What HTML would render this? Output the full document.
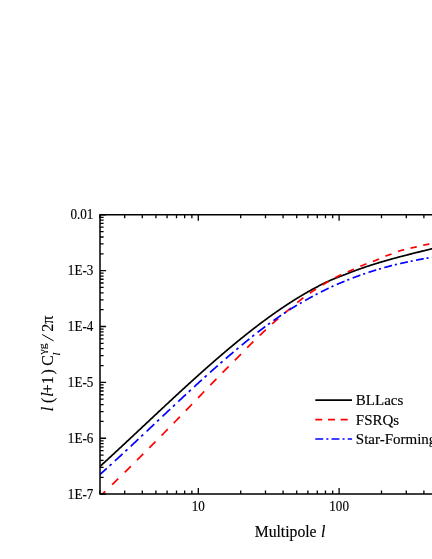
<!DOCTYPE html>
<html><head><meta charset="utf-8"><title>chart</title>
<style>
html,body{margin:0;padding:0;background:#fff;}
body{width:432px;height:559px;overflow:hidden;}
svg{display:block;will-change:transform;}
text{font-family:"Liberation Serif",serif;fill:#000;stroke:#000;stroke-width:0.15px;}
</style></head><body>
<svg width="432" height="559" viewBox="0 0 432 559">
<rect width="432" height="559" fill="#fff"/>
<defs><clipPath id="c"><rect x="100" y="214.75" width="340" height="279.95000000000005"/></clipPath></defs>
<g clip-path="url(#c)" fill="none" stroke-width="1.7">
<path d="M96.00,470.06 L96.50,469.60 L97.00,469.15 L97.50,468.70 L98.00,468.24 L98.50,467.79 L99.00,467.33 L99.50,466.88 L100.00,466.42 L100.50,465.96 L101.00,465.51 L101.50,465.05 L102.00,464.59 L102.50,464.14 L103.00,463.68 L103.50,463.22 L104.00,462.77 L104.50,462.31 L105.00,461.85 L105.50,461.39 L106.00,460.93 L106.50,460.47 L107.00,460.01 L107.50,459.55 L108.00,459.09 L108.50,458.63 L109.00,458.17 L109.50,457.71 L110.00,457.25 L110.50,456.79 L111.00,456.33 L111.50,455.86 L112.00,455.40 L112.50,454.94 L113.00,454.48 L113.50,454.02 L114.00,453.55 L114.50,453.09 L115.00,452.63 L115.50,452.16 L116.00,451.70 L116.50,451.24 L117.00,450.77 L117.50,450.31 L118.00,449.84 L118.50,449.38 L119.00,448.91 L119.50,448.45 L120.00,447.98 L120.50,447.52 L121.00,447.05 L121.50,446.59 L122.00,446.12 L122.50,445.66 L123.00,445.19 L123.50,444.72 L124.00,444.26 L124.50,443.79 L125.00,443.32 L125.50,442.86 L126.00,442.39 L126.50,441.92 L127.00,441.46 L127.50,440.99 L128.00,440.52 L128.50,440.05 L129.00,439.59 L129.50,439.12 L130.00,438.65 L130.50,438.18 L131.00,437.72 L131.50,437.25 L132.00,436.78 L132.50,436.31 L133.00,435.84 L133.50,435.37 L134.00,434.91 L134.50,434.44 L135.00,433.97 L135.50,433.50 L136.00,433.03 L136.50,432.56 L137.00,432.09 L137.50,431.62 L138.00,431.16 L138.50,430.69 L139.00,430.22 L139.50,429.75 L140.00,429.28 L140.50,428.81 L141.00,428.34 L141.50,427.87 L142.00,427.40 L142.50,426.93 L143.00,426.46 L143.50,425.99 L144.00,425.53 L144.50,425.06 L145.00,424.59 L145.50,424.12 L146.00,423.65 L146.50,423.18 L147.00,422.71 L147.50,422.24 L148.00,421.77 L148.50,421.30 L149.00,420.83 L149.50,420.36 L150.00,419.90 L150.50,419.43 L151.00,418.96 L151.50,418.49 L152.00,418.02 L152.50,417.55 L153.00,417.08 L153.50,416.61 L154.00,416.14 L154.50,415.68 L155.00,415.21 L155.50,414.74 L156.00,414.27 L156.50,413.80 L157.00,413.33 L157.50,412.87 L158.00,412.40 L158.50,411.93 L159.00,411.46 L159.50,411.00 L160.00,410.53 L160.50,410.06 L161.00,409.59 L161.50,409.13 L162.00,408.66 L162.50,408.19 L163.00,407.72 L163.50,407.26 L164.00,406.79 L164.50,406.32 L165.00,405.86 L165.50,405.39 L166.00,404.93 L166.50,404.46 L167.00,403.99 L167.50,403.53 L168.00,403.06 L168.50,402.60 L169.00,402.13 L169.50,401.67 L170.00,401.20 L170.50,400.74 L171.00,400.27 L171.50,399.81 L172.00,399.35 L172.50,398.88 L173.00,398.42 L173.50,397.96 L174.00,397.49 L174.50,397.03 L175.00,396.57 L175.50,396.10 L176.00,395.64 L176.50,395.18 L177.00,394.72 L177.50,394.26 L178.00,393.79 L178.50,393.33 L179.00,392.87 L179.50,392.41 L180.00,391.95 L180.50,391.49 L181.00,391.03 L181.50,390.57 L182.00,390.11 L182.50,389.65 L183.00,389.19 L183.50,388.73 L184.00,388.28 L184.50,387.82 L185.00,387.36 L185.50,386.90 L186.00,386.44 L186.50,385.99 L187.00,385.53 L187.50,385.07 L188.00,384.62 L188.50,384.16 L189.00,383.71 L189.50,383.25 L190.00,382.80 L190.50,382.34 L191.00,381.89 L191.50,381.43 L192.00,380.98 L192.50,380.53 L193.00,380.07 L193.50,379.62 L194.00,379.17 L194.50,378.72 L195.00,378.26 L195.50,377.81 L196.00,377.36 L196.50,376.91 L197.00,376.46 L197.50,376.01 L198.00,375.56 L198.50,375.11 L199.00,374.66 L199.50,374.22 L200.00,373.77 L200.50,373.32 L201.00,372.87 L201.50,372.43 L202.00,371.98 L202.50,371.53 L203.00,371.09 L203.50,370.64 L204.00,370.20 L204.50,369.75 L205.00,369.31 L205.50,368.87 L206.00,368.42 L206.50,367.98 L207.00,367.54 L207.50,367.10 L208.00,366.66 L208.50,366.21 L209.00,365.77 L209.50,365.33 L210.00,364.89 L210.50,364.46 L211.00,364.02 L211.50,363.58 L212.00,363.14 L212.50,362.70 L213.00,362.27 L213.50,361.83 L214.00,361.39 L214.50,360.96 L215.00,360.52 L215.50,360.09 L216.00,359.66 L216.50,359.22 L217.00,358.79 L217.50,358.36 L218.00,357.92 L218.50,357.49 L219.00,357.06 L219.50,356.63 L220.00,356.20 L220.50,355.77 L221.00,355.34 L221.50,354.92 L222.00,354.49 L222.50,354.06 L223.00,353.63 L223.50,353.21 L224.00,352.78 L224.50,352.36 L225.00,351.93 L225.50,351.51 L226.00,351.09 L226.50,350.66 L227.00,350.24 L227.50,349.82 L228.00,349.40 L228.50,348.98 L229.00,348.56 L229.50,348.14 L230.00,347.72 L230.50,347.30 L231.00,346.88 L231.50,346.47 L232.00,346.05 L232.50,345.63 L233.00,345.22 L233.50,344.80 L234.00,344.39 L234.50,343.98 L235.00,343.56 L235.50,343.15 L236.00,342.74 L236.50,342.33 L237.00,341.92 L237.50,341.51 L238.00,341.10 L238.50,340.69 L239.00,340.29 L239.50,339.88 L240.00,339.47 L240.50,339.07 L241.00,338.66 L241.50,338.26 L242.00,337.85 L242.50,337.45 L243.00,337.05 L243.50,336.65 L244.00,336.25 L244.50,335.85 L245.00,335.45 L245.50,335.05 L246.00,334.65 L246.50,334.25 L247.00,333.86 L247.50,333.46 L248.00,333.06 L248.50,332.67 L249.00,332.28 L249.50,331.88 L250.00,331.49 L250.50,331.10 L251.00,330.71 L251.50,330.32 L252.00,329.93 L252.50,329.54 L253.00,329.15 L253.50,328.77 L254.00,328.38 L254.50,327.99 L255.00,327.61 L255.50,327.22 L256.00,326.84 L256.50,326.46 L257.00,326.08 L257.50,325.69 L258.00,325.31 L258.50,324.94 L259.00,324.56 L259.50,324.18 L260.00,323.80 L260.50,323.43 L261.00,323.05 L261.50,322.67 L262.00,322.30 L262.50,321.93 L263.00,321.56 L263.50,321.18 L264.00,320.81 L264.50,320.44 L265.00,320.07 L265.50,319.71 L266.00,319.34 L266.50,318.97 L267.00,318.61 L267.50,318.24 L268.00,317.88 L268.50,317.52 L269.00,317.15 L269.50,316.79 L270.00,316.43 L270.50,316.07 L271.00,315.71 L271.50,315.36 L272.00,315.00 L272.50,314.64 L273.00,314.29 L273.50,313.93 L274.00,313.58 L274.50,313.23 L275.00,312.88 L275.50,312.52 L276.00,312.17 L276.50,311.83 L277.00,311.48 L277.50,311.13 L278.00,310.78 L278.50,310.44 L279.00,310.09 L279.50,309.75 L280.00,309.41 L280.50,309.07 L281.00,308.73 L281.50,308.39 L282.00,308.05 L282.50,307.71 L283.00,307.37 L283.50,307.04 L284.00,306.70 L284.50,306.37 L285.00,306.04 L285.50,305.70 L286.00,305.37 L286.50,305.04 L287.00,304.71 L287.50,304.39 L288.00,304.06 L288.50,303.73 L289.00,303.41 L289.50,303.08 L290.00,302.76 L290.50,302.44 L291.00,302.12 L291.50,301.80 L292.00,301.48 L292.50,301.16 L293.00,300.84 L293.50,300.53 L294.00,300.21 L294.50,299.90 L295.00,299.59 L295.50,299.28 L296.00,298.96 L296.50,298.65 L297.00,298.35 L297.50,298.04 L298.00,297.73 L298.50,297.43 L299.00,297.12 L299.50,296.82 L300.00,296.52 L300.50,296.22 L301.00,295.92 L301.50,295.62 L302.00,295.32 L302.50,295.02 L303.00,294.73 L303.50,294.43 L304.00,294.14 L304.50,293.84 L305.00,293.55 L305.50,293.26 L306.00,292.97 L306.50,292.69 L307.00,292.40 L307.50,292.11 L308.00,291.83 L308.50,291.55 L309.00,291.26 L309.50,290.98 L310.00,290.70 L310.50,290.42 L311.00,290.14 L311.50,289.87 L312.00,289.59 L312.50,289.32 L313.00,289.05 L313.50,288.77 L314.00,288.50 L314.50,288.23 L315.00,287.96 L315.50,287.70 L316.00,287.43 L316.50,287.17 L317.00,286.90 L317.50,286.64 L318.00,286.38 L318.50,286.12 L319.00,285.86 L319.50,285.60 L320.00,285.34 L320.50,285.09 L321.00,284.84 L321.50,284.58 L322.00,284.33 L322.50,284.08 L323.00,283.83 L323.50,283.58 L324.00,283.34 L324.50,283.09 L325.00,282.84 L325.50,282.60 L326.00,282.36 L326.50,282.12 L327.00,281.88 L327.50,281.64 L328.00,281.40 L328.50,281.16 L329.00,280.93 L329.50,280.69 L330.00,280.46 L330.50,280.25 L331.00,280.04 L331.50,279.83 L332.00,279.62 L332.50,279.41 L333.00,279.20 L333.50,279.00 L334.00,278.79 L334.50,278.59 L335.00,278.39 L335.50,278.19 L336.00,277.99 L336.50,277.79 L337.00,277.59 L337.50,277.39 L338.00,277.19 L338.50,277.00 L339.00,276.80 L339.50,276.61 L340.00,276.42 L340.50,276.23 L341.00,276.04 L341.50,275.85 L342.00,275.66 L342.50,275.47 L343.00,275.29 L343.50,275.10 L344.00,274.92 L344.50,274.73 L345.00,274.55 L345.50,274.35 L346.00,274.15 L346.50,273.95 L347.00,273.75 L347.50,273.55 L348.00,273.35 L348.50,273.16 L349.00,272.96 L349.50,272.77 L350.00,272.57 L350.50,272.38 L351.00,272.19 L351.50,272.00 L352.00,271.81 L352.50,271.62 L353.00,271.43 L353.50,271.24 L354.00,271.06 L354.50,270.87 L355.00,270.69 L355.50,270.50 L356.00,270.32 L356.50,270.14 L357.00,269.96 L357.50,269.77 L358.00,269.59 L358.50,269.42 L359.00,269.24 L359.50,269.06 L360.00,268.88 L360.50,268.71 L361.00,268.53 L361.50,268.36 L362.00,268.18 L362.50,268.01 L363.00,267.84 L363.50,267.67 L364.00,267.50 L364.50,267.33 L365.00,267.16 L365.50,266.99 L366.00,266.82 L366.50,266.65 L367.00,266.49 L367.50,266.32 L368.00,266.15 L368.50,265.99 L369.00,265.83 L369.50,265.66 L370.00,265.50 L370.50,265.34 L371.00,265.18 L371.50,265.02 L372.00,264.86 L372.50,264.70 L373.00,264.54 L373.50,264.38 L374.00,264.22 L374.50,264.07 L375.00,263.91 L375.50,263.76 L376.00,263.60 L376.50,263.45 L377.00,263.29 L377.50,263.14 L378.00,262.99 L378.50,262.84 L379.00,262.68 L379.50,262.53 L380.00,262.38 L380.50,262.23 L381.00,262.08 L381.50,261.94 L382.00,261.79 L382.50,261.64 L383.00,261.49 L383.50,261.35 L384.00,261.20 L384.50,261.06 L385.00,260.91 L385.50,260.77 L386.00,260.62 L386.50,260.48 L387.00,260.34 L387.50,260.19 L388.00,260.05 L388.50,259.91 L389.00,259.77 L389.50,259.63 L390.00,259.49 L390.50,259.35 L391.00,259.21 L391.50,259.07 L392.00,258.93 L392.50,258.79 L393.00,258.66 L393.50,258.52 L394.00,258.38 L394.50,258.25 L395.00,258.11 L395.50,257.97 L396.00,257.84 L396.50,257.70 L397.00,257.57 L397.50,257.43 L398.00,257.30 L398.50,257.17 L399.00,257.03 L399.50,256.90 L400.00,256.77 L400.50,256.64 L401.00,256.51 L401.50,256.37 L402.00,256.24 L402.50,256.11 L403.00,255.98 L403.50,255.85 L404.00,255.72 L404.50,255.59 L405.00,255.46 L405.50,255.33 L406.00,255.21 L406.50,255.08 L407.00,254.95 L407.50,254.82 L408.00,254.69 L408.50,254.57 L409.00,254.44 L409.50,254.31 L410.00,254.18 L410.50,254.06 L411.00,253.93 L411.50,253.81 L412.00,253.68 L412.50,253.55 L413.00,253.43 L413.50,253.30 L414.00,253.18 L414.50,253.05 L415.00,252.93 L415.50,252.80 L416.00,252.68 L416.50,252.55 L417.00,252.43 L417.50,252.31 L418.00,252.18 L418.50,252.06 L419.00,251.93 L419.50,251.81 L420.00,251.69 L420.50,251.56 L421.00,251.44 L421.50,251.32 L422.00,251.20 L422.50,251.07 L423.00,250.95 L423.50,250.83 L424.00,250.70 L424.50,250.58 L425.00,250.46 L425.50,250.34 L426.00,250.21 L426.50,250.09 L427.00,249.97 L427.50,249.85 L428.00,249.73 L428.50,249.60 L429.00,249.48 L429.50,249.36 L430.00,249.24 L430.50,249.11 L431.00,248.99 L431.50,248.87 L432.00,248.75 L432.50,248.63 L433.00,248.50 L433.50,248.38 L434.00,248.26 L434.50,248.14 L435.00,248.01 L435.50,247.89 L436.00,247.77 L436.50,247.65 L437.00,247.52 L437.50,247.40 L438.00,247.28 L438.50,247.16 L439.00,247.03 L439.50,246.91 L440.00,246.79 L440.50,246.66 L441.00,246.54 L441.50,246.42 L442.00,246.29" stroke="#000"/>
<path d="M99.14,497.19 L99.50,496.85 L100.00,496.36 L100.50,495.88 L101.00,495.40 L101.50,494.92 L102.00,494.44 L102.50,493.95 L103.00,493.47 L103.50,492.99 L104.00,492.50 L104.50,492.02 L105.00,491.54 L105.29,491.26 M112.06,484.68 L112.50,484.26 L113.00,483.77 L113.50,483.28 L114.00,482.79 L114.50,482.31 L115.00,481.82 L115.50,481.33 L116.00,480.84 L116.50,480.35 L117.00,479.87 L117.50,479.38 L118.00,478.89 L118.21,478.68 M124.69,472.33 L125.00,472.02 L125.50,471.53 L126.00,471.03 L126.50,470.54 L127.00,470.05 L127.50,469.56 L128.00,469.06 L128.50,468.57 L129.00,468.08 L129.50,467.58 L130.00,467.09 L130.50,466.59 L130.84,466.26 M137.11,460.04 L137.50,459.65 L138.00,459.16 L138.50,458.66 L139.00,458.16 L139.50,457.66 L140.00,457.17 L140.50,456.67 L141.00,456.17 L141.50,455.67 L142.00,455.17 L142.50,454.67 L143.00,454.17 L143.26,453.92 M149.38,447.78 L149.50,447.66 L150.00,447.16 L150.50,446.66 L151.00,446.16 L151.50,445.65 L152.00,445.15 L152.50,444.65 L153.00,444.14 L153.50,443.64 L154.00,443.14 L154.50,442.63 L155.00,442.13 L155.50,441.62 L155.53,441.59 M161.58,435.48 L162.00,435.04 L162.50,434.54 L163.00,434.03 L163.50,433.52 L164.00,433.01 L164.50,432.51 L165.00,432.00 L165.50,431.49 L166.00,430.98 L166.50,430.47 L167.00,429.96 L167.50,429.45 L167.73,429.22 M173.73,423.09 L174.00,422.81 L174.50,422.30 L175.00,421.78 L175.50,421.27 L176.00,420.76 L176.50,420.24 L177.00,419.73 L177.50,419.22 L178.00,418.70 L178.50,418.19 L179.00,417.67 L179.50,417.16 L179.88,416.77 M185.87,410.58 L186.00,410.45 L186.50,409.93 L187.00,409.41 L187.50,408.90 L188.00,408.38 L188.50,407.86 L189.00,407.34 L189.50,406.82 L190.00,406.30 L190.50,405.78 L191.00,405.26 L191.50,404.74 L192.00,404.22 L192.02,404.20 M198.04,397.93 L198.50,397.44 L199.00,396.92 L199.50,396.40 L200.00,395.88 L200.50,395.35 L201.00,394.83 L201.50,394.30 L202.00,393.78 L202.50,393.26 L203.00,392.73 L203.50,392.21 L204.00,391.68 L204.19,391.48 M210.25,385.25 L210.50,384.99 L211.00,384.47 L211.50,383.96 L212.00,383.45 L212.50,382.94 L213.00,382.42 L213.50,381.91 L214.00,381.40 L214.50,380.88 L215.00,380.37 L215.50,379.86 L216.00,379.35 L216.40,378.94 M222.51,372.69 L223.00,372.20 L223.50,371.69 L224.00,371.19 L224.50,370.68 L225.00,370.18 L225.50,369.68 L226.00,369.17 L226.50,368.67 L227.00,368.17 L227.50,367.66 L228.00,367.16 L228.50,366.66 L228.66,366.50 M234.84,360.34 L235.00,360.18 L235.50,359.68 L236.00,359.19 L236.50,358.69 L237.00,358.20 L237.50,357.68 L238.00,357.16 L238.50,356.64 L239.00,356.13 L239.50,355.61 L240.00,355.10 L240.50,354.58 L240.99,354.08 M247.23,347.72 L247.50,347.44 L248.00,346.94 L248.50,346.44 L249.00,345.93 L249.50,345.43 L250.00,344.93 L250.50,344.43 L251.00,343.94 L251.50,343.45 L252.00,342.96 L252.50,342.47 L253.00,341.98 L253.38,341.61 M259.67,335.53 L260.00,335.22 L260.50,334.74 L261.00,334.27 L261.50,333.80 L262.00,333.32 L262.50,332.85 L263.00,332.38 L263.50,331.91 L264.00,331.44 L264.50,330.97 L265.00,330.51 L265.50,330.04 L265.82,329.74 M272.17,323.93 L272.50,323.64 L273.00,323.19 L273.50,322.74 L274.00,322.30 L274.50,321.85 L275.00,321.41 L275.50,320.96 L276.00,320.52 L276.50,320.08 L277.00,319.64 L277.50,319.21 L278.00,318.77 L278.32,318.49 M284.72,313.04 L285.00,312.81 L285.50,312.39 L286.00,311.98 L286.50,311.56 L287.00,311.15 L287.50,310.74 L288.00,310.33 L288.50,309.93 L289.00,309.52 L289.50,309.12 L290.00,308.71 L290.50,308.28 L290.87,307.97 M297.29,302.58 L297.50,302.41 L298.00,302.00 L298.50,301.60 L299.00,301.19 L299.50,300.79 L300.00,300.38 L300.50,299.98 L301.00,299.58 L301.50,299.18 L302.00,298.79 L302.50,298.42 L303.00,298.06 L303.44,297.74 M309.89,293.18 L310.00,293.11 L310.50,292.76 L311.00,292.42 L311.50,292.08 L312.00,291.74 L312.50,291.41 L313.00,291.07 L313.50,290.74 L314.00,290.41 L314.50,290.08 L315.00,289.75 L315.50,289.42 L316.00,289.09 L316.04,289.07 M322.50,284.99 L323.00,284.68 L323.50,284.38 L324.00,284.08 L324.50,283.78 L325.00,283.48 L325.50,283.18 L326.00,282.88 L326.50,282.59 L327.00,282.30 L327.50,282.00 L328.00,281.71 L328.50,281.43 L328.65,281.34 M335.11,277.75 L335.50,277.54 L336.00,277.28 L336.50,277.01 L337.00,276.75 L337.50,276.49 L338.00,276.23 L338.50,275.97 L339.00,275.71 L339.50,275.46 L340.00,275.20 L340.50,274.98 L341.00,274.75 L341.26,274.63 M347.72,271.83 L348.00,271.71 L348.50,271.50 L349.00,271.29 L349.50,271.09 L350.00,270.88 L350.50,270.65 L351.00,270.42 L351.50,270.20 L352.00,269.97 L352.50,269.74 L353.00,269.52 L353.50,269.30 L353.87,269.13 M360.31,266.34 L360.50,266.26 L361.00,266.04 L361.50,265.83 L362.00,265.62 L362.50,265.41 L363.00,265.21 L363.50,265.00 L364.00,264.79 L364.50,264.58 L365.00,264.38 L365.50,264.17 L366.00,263.97 L366.46,263.79 M372.88,261.43 L373.00,261.39 L373.50,261.21 L374.00,261.03 L374.50,260.86 L375.00,260.68 L375.50,260.50 L376.00,260.33 L376.50,260.10 L377.00,259.87 L377.50,259.64 L378.00,259.42 L378.50,259.19 L379.00,258.97 L379.03,258.95 M385.45,256.13 L385.50,256.11 L386.00,255.89 L386.50,255.72 L387.00,255.55 L387.50,255.37 L388.00,255.20 L388.50,255.03 L389.00,254.86 L389.50,254.69 L390.00,254.53 L390.50,254.36 L391.00,254.19 L391.50,254.03 L391.60,253.99 M398.02,251.49 L398.50,251.31 L399.00,251.12 L399.50,250.93 L400.00,250.74 L400.50,250.61 L401.00,250.48 L401.50,250.35 L402.00,250.22 L402.50,250.09 L403.00,249.97 L403.50,249.84 L404.00,249.72 L404.17,249.67 M410.60,248.15 L411.00,248.06 L411.50,247.95 L412.00,247.84 L412.50,247.73 L413.00,247.62 L413.50,247.51 L414.00,247.40 L414.50,247.30 L415.00,247.19 L415.50,247.07 L416.00,246.94 L416.50,246.82 L416.75,246.76 M423.21,245.26 L423.50,245.20 L424.00,245.09 L424.50,244.98 L425.00,244.88 L425.50,244.77 L426.00,244.67 L426.50,244.56 L427.00,244.46 L427.50,244.36 L428.00,244.25 L428.50,244.15 L429.00,244.05 L429.36,243.98 M435.89,242.78 L436.00,242.76 L436.50,242.68 L437.00,242.60 L437.50,242.51 L438.00,242.43 L438.50,242.35 L439.00,242.27 L439.50,242.19 L440.00,242.11 L440.50,242.04 L441.00,241.96 L441.50,241.89 L442.00,241.81" stroke="#ff0000"/>
<path d="M99.05,475.29 L99.50,474.89 L100.00,474.44 L100.50,474.00 L101.00,473.55 L101.50,473.10 L102.00,472.65 L102.50,472.20 L103.00,471.76 L103.50,471.31 L104.00,470.86 L104.50,470.41 L105.00,469.95 L105.50,469.50 L106.00,469.05 L106.50,468.60 L106.75,468.37 M109.55,465.83 L110.00,465.42 L110.50,464.97 L111.00,464.51 L111.50,464.06 L111.55,464.01 M114.90,460.95 L115.00,460.85 L115.50,460.39 L116.00,459.94 L116.50,459.48 L117.00,459.02 L117.50,458.56 L118.00,458.10 L118.50,457.64 L119.00,457.17 L119.50,456.71 L120.00,456.25 L120.50,455.79 L121.00,455.33 L121.50,454.86 L122.00,454.40 L122.50,453.94 L122.60,453.85 M125.40,451.25 L125.50,451.15 L126.00,450.69 L126.50,450.22 L127.00,449.76 L127.40,449.39 M130.75,446.26 L131.00,446.03 L131.50,445.56 L132.00,445.09 L132.50,444.63 L133.00,444.16 L133.50,443.69 L134.00,443.22 L134.50,442.75 L135.00,442.29 L135.50,441.82 L136.00,441.35 L136.50,440.88 L137.00,440.41 L137.50,439.94 L138.00,439.47 L138.45,439.05 M141.25,436.42 L141.50,436.18 L142.00,435.71 L142.50,435.24 L143.00,434.77 L143.25,434.53 M146.60,431.38 L147.00,431.00 L147.50,430.53 L148.00,430.06 L148.50,429.58 L149.00,429.11 L149.50,428.64 L150.00,428.17 L150.50,427.70 L151.00,427.23 L151.50,426.75 L152.00,426.28 L152.50,425.81 L153.00,425.34 L153.50,424.87 L154.00,424.39 L154.30,424.11 M157.10,421.47 L157.50,421.09 L158.00,420.62 L158.50,420.15 L159.00,419.67 L159.10,419.58 M162.45,416.42 L162.50,416.37 L163.00,415.90 L163.50,415.43 L164.00,414.96 L164.50,414.49 L165.00,414.02 L165.50,413.55 L166.00,413.07 L166.50,412.60 L167.00,412.13 L167.50,411.66 L168.00,411.19 L168.50,410.72 L169.00,410.25 L169.50,409.78 L170.00,409.31 L170.15,409.17 M172.95,406.54 L173.00,406.49 L173.50,406.02 L174.00,405.55 L174.50,405.08 L174.95,404.66 M178.30,401.53 L178.50,401.34 L179.00,400.87 L179.50,400.41 L180.00,399.94 L180.50,399.47 L181.00,399.01 L181.50,398.54 L182.00,398.07 L182.50,397.61 L183.00,397.14 L183.50,396.68 L184.00,396.21 L184.50,395.75 L185.00,395.28 L185.50,394.82 L186.00,394.35 M188.80,391.76 L189.00,391.58 L189.50,391.11 L190.00,390.65 L190.50,390.19 L190.80,389.91 M194.15,386.83 L194.50,386.51 L195.00,386.05 L195.50,385.59 L196.00,385.13 L196.50,384.68 L197.00,384.22 L197.50,383.76 L198.00,383.31 L198.50,382.85 L199.00,382.39 L199.50,381.94 L200.00,381.48 L200.50,381.03 L201.00,380.57 L201.50,380.12 L201.85,379.80 M204.65,377.27 L205.00,376.95 L205.50,376.50 L206.00,376.05 L206.50,375.60 L206.65,375.47 M210.00,372.46 L210.50,372.02 L211.00,371.57 L211.50,371.12 L212.00,370.68 L212.50,370.24 L213.00,369.79 L213.50,369.35 L214.00,368.90 L214.50,368.46 L215.00,368.02 L215.50,367.58 L216.00,367.14 L216.50,366.70 L217.00,366.26 L217.50,365.82 L217.70,365.64 M220.50,363.19 L221.00,362.76 L221.50,362.32 L222.00,361.89 L222.50,361.45 M225.85,358.56 L226.00,358.43 L226.50,358.00 L227.00,357.57 L227.50,357.14 L228.00,356.71 L228.50,356.29 L229.00,355.86 L229.50,355.43 L230.00,355.01 L230.50,354.58 L231.00,354.16 L231.50,353.74 L232.00,353.31 L232.50,352.89 L233.00,352.47 L233.50,352.05 L233.55,352.01 M236.35,349.67 L236.50,349.54 L237.00,349.12 L237.50,348.71 L238.00,348.29 L238.35,348.00 M241.70,345.21 L242.00,344.96 L242.50,344.54 L243.00,344.13 L243.50,343.71 L244.00,343.29 L244.50,342.88 L245.00,342.46 L245.50,342.05 L246.00,341.64 L246.50,341.22 L247.00,340.81 L247.50,340.40 L248.00,339.99 L248.50,339.58 L249.00,339.17 L249.40,338.85 M252.20,336.58 L252.50,336.34 L253.00,335.93 L253.50,335.53 L254.00,335.13 L254.20,334.97 M257.55,332.37 L258.00,332.02 L258.50,331.64 L259.00,331.26 L259.50,330.87 L260.00,330.49 L260.50,330.11 L261.00,329.74 L261.50,329.36 L262.00,328.98 L262.50,328.61 L263.00,328.23 L263.50,327.86 L264.00,327.48 L264.50,327.11 L265.00,326.74 L265.25,326.56 M268.05,324.50 L268.50,324.17 L269.00,323.80 L269.50,323.44 L270.00,323.08 L270.05,323.04 M273.40,320.65 L273.50,320.57 L274.00,320.22 L274.50,319.87 L275.00,319.52 L275.50,319.16 L276.00,318.81 L276.50,318.47 L277.00,318.12 L277.50,317.77 L278.00,317.42 L278.50,317.08 L279.00,316.74 L279.50,316.39 L280.00,316.05 L280.50,315.71 L281.00,315.37 L281.10,315.30 M283.90,313.42 L284.00,313.35 L284.50,313.02 L285.00,312.69 L285.50,312.36 L285.90,312.10 M289.25,309.92 L289.50,309.76 L290.00,309.44 L290.50,309.13 L291.00,308.82 L291.50,308.51 L292.00,308.21 L292.50,307.90 L293.00,307.60 L293.50,307.30 L294.00,306.99 L294.50,306.69 L295.00,306.39 L295.50,306.10 L296.00,305.80 L296.50,305.50 L296.95,305.24 M299.75,303.60 L300.00,303.46 L300.50,303.17 L301.00,302.88 L301.50,302.59 L301.75,302.45 M305.10,300.56 L305.50,300.33 L306.00,300.05 L306.50,299.76 L307.00,299.48 L307.50,299.19 L308.00,298.91 L308.50,298.63 L309.00,298.35 L309.50,298.07 L310.00,297.79 L310.50,297.52 L311.00,297.24 L311.50,296.96 L312.00,296.69 L312.50,296.42 L312.80,296.25 M315.60,294.75 L316.00,294.53 L316.50,294.27 L317.00,294.00 L317.50,293.74 L317.60,293.69 M320.95,291.95 L321.00,291.93 L321.50,291.67 L322.00,291.42 L322.50,291.16 L323.00,290.91 L323.50,290.66 L324.00,290.41 L324.50,290.16 L325.00,289.91 L325.50,289.67 L326.00,289.42 L326.50,289.17 L327.00,288.93 L327.50,288.69 L328.00,288.44 L328.50,288.20 L328.65,288.13 M331.45,286.83 L331.50,286.81 L332.00,286.58 L332.50,286.36 L333.00,286.14 L333.45,285.94 M336.80,284.48 L337.00,284.39 L337.50,284.18 L338.00,283.96 L338.50,283.75 L339.00,283.54 L339.50,283.33 L340.00,283.12 L340.50,282.91 L341.00,282.70 L341.50,282.50 L342.00,282.29 L342.50,282.09 L343.00,281.88 L343.50,281.68 L344.00,281.48 L344.50,281.28 M347.30,280.14 L347.50,280.06 L348.00,279.86 L348.50,279.66 L349.00,279.46 L349.30,279.34 M352.65,278.03 L353.00,277.89 L353.50,277.70 L354.00,277.51 L354.50,277.32 L355.00,277.13 L355.50,276.95 L356.00,276.76 L356.50,276.57 L357.00,276.39 L357.50,276.21 L358.00,276.02 L358.50,275.84 L359.00,275.66 L359.50,275.48 L360.00,275.30 L360.35,275.17 M363.15,274.19 L363.50,274.07 L364.00,273.89 L364.50,273.72 L365.00,273.55 L365.15,273.50 M368.50,272.38 L369.00,272.22 L369.50,272.06 L370.00,271.89 L370.50,271.73 L371.00,271.57 L371.50,271.41 L372.00,271.26 L372.50,271.10 L373.00,270.94 L373.50,270.79 L374.00,270.63 L374.50,270.48 L375.00,270.32 L375.50,270.17 L376.00,270.02 L376.20,269.96 M379.00,269.13 L379.50,268.98 L380.00,268.84 L380.50,268.69 L381.00,268.54 M384.35,267.59 L384.50,267.54 L385.00,267.41 L385.50,267.27 L386.00,267.13 L386.50,266.99 L387.00,266.86 L387.50,266.72 L388.00,266.59 L388.50,266.45 L389.00,266.32 L389.50,266.19 L390.00,266.06 L390.50,265.93 L391.00,265.80 L391.50,265.67 L392.00,265.54 L392.05,265.53 M394.85,264.83 L395.00,264.79 L395.50,264.67 L396.00,264.55 L396.50,264.43 L396.85,264.34 M400.20,263.56 L400.50,263.49 L401.00,263.38 L401.50,263.26 L402.00,263.15 L402.50,263.04 L403.00,262.93 L403.50,262.82 L404.00,262.71 L404.50,262.60 L405.00,262.50 L405.50,262.39 L406.00,262.29 L406.50,262.18 L407.00,262.08 L407.50,261.97 L407.90,261.89 M410.70,261.31 L411.00,261.25 L411.50,261.14 L412.00,261.03 L412.50,260.93 L412.70,260.88 M416.05,260.19 L416.50,260.10 L417.00,260.00 L417.50,259.90 L418.00,259.80 L418.50,259.70 L419.00,259.60 L419.50,259.51 L420.00,259.41 L420.50,259.32 L421.00,259.22 L421.50,259.13 L422.00,259.04 L422.50,258.95 L423.00,258.85 L423.50,258.76 L423.75,258.72 M426.55,258.23 L427.00,258.15 L427.50,258.07 L428.00,257.98 L428.50,257.91 L428.55,257.90 M431.90,257.41 L432.00,257.40 L432.50,257.33 L433.00,257.26 L433.50,257.19 L434.00,257.12 L434.50,257.05 L435.00,256.99 L435.50,256.92 L436.00,256.85 L436.50,256.79 L437.00,256.73 L437.50,256.66 L438.00,256.60 L438.50,256.54 L439.00,256.48 L439.50,256.42 L439.60,256.41" stroke="#0000ff"/>
</g>
<path d="M440,214.75 H100 V494.1 H440" stroke="#000" stroke-width="1.5" fill="none"/>
<path d="M99.90,494.1 v-3.6 M99.90,214.75 v3.6 M124.69,494.1 v-3.6 M124.69,214.75 v3.6 M142.29,494.1 v-3.6 M142.29,214.75 v3.6 M155.93,494.1 v-3.6 M155.93,214.75 v3.6 M167.08,494.1 v-3.6 M167.08,214.75 v3.6 M176.50,494.1 v-3.6 M176.50,214.75 v3.6 M184.67,494.1 v-3.6 M184.67,214.75 v3.6 M191.87,494.1 v-3.6 M191.87,214.75 v3.6 M198.31,494.1 v-6.1 M198.31,214.75 v6.1 M240.70,494.1 v-3.6 M240.70,214.75 v3.6 M265.49,494.1 v-3.6 M265.49,214.75 v3.6 M283.09,494.1 v-3.6 M283.09,214.75 v3.6 M296.73,494.1 v-3.6 M296.73,214.75 v3.6 M307.88,494.1 v-3.6 M307.88,214.75 v3.6 M317.30,494.1 v-3.6 M317.30,214.75 v3.6 M325.47,494.1 v-3.6 M325.47,214.75 v3.6 M332.67,494.1 v-3.6 M332.67,214.75 v3.6 M339.11,494.1 v-6.1 M339.11,214.75 v6.1 M381.50,494.1 v-3.6 M381.50,214.75 v3.6 M406.29,494.1 v-3.6 M406.29,214.75 v3.6 M423.89,494.1 v-3.6 M423.89,214.75 v3.6 M437.53,494.1 v-3.6 M437.53,214.75 v3.6 M448.68,494.1 v-3.6 M448.68,214.75 v3.6 M100,494.10 h6.1 M100,477.28 h3.6 M100,467.44 h3.6 M100,460.46 h3.6 M100,455.05 h3.6 M100,450.62 h3.6 M100,446.88 h3.6 M100,443.64 h3.6 M100,440.79 h3.6 M100,438.23 h6.1 M100,421.41 h3.6 M100,411.57 h3.6 M100,404.59 h3.6 M100,399.18 h3.6 M100,394.75 h3.6 M100,391.01 h3.6 M100,387.77 h3.6 M100,384.92 h3.6 M100,382.36 h6.1 M100,365.54 h3.6 M100,355.70 h3.6 M100,348.72 h3.6 M100,343.31 h3.6 M100,338.88 h3.6 M100,335.14 h3.6 M100,331.90 h3.6 M100,329.05 h3.6 M100,326.49 h6.1 M100,309.67 h3.6 M100,299.83 h3.6 M100,292.85 h3.6 M100,287.44 h3.6 M100,283.01 h3.6 M100,279.27 h3.6 M100,276.03 h3.6 M100,273.18 h3.6 M100,270.62 h6.1 M100,253.80 h3.6 M100,243.96 h3.6 M100,236.98 h3.6 M100,231.57 h3.6 M100,227.14 h3.6 M100,223.40 h3.6 M100,220.16 h3.6 M100,217.31 h3.6 M100,214.75 h6.1" stroke="#000" stroke-width="1.3" fill="none"/>
<text transform="translate(93.3,219.25) scale(1,1.09)" font-size="13.1" text-anchor="end" stroke="#000" stroke-width="0.25">0.01</text>
<text transform="translate(93.3,275.12) scale(1,1.09)" font-size="13.1" text-anchor="end" stroke="#000" stroke-width="0.25">1E-3</text>
<text transform="translate(93.3,330.99) scale(1,1.09)" font-size="13.1" text-anchor="end" stroke="#000" stroke-width="0.25">1E-4</text>
<text transform="translate(93.3,386.86) scale(1,1.09)" font-size="13.1" text-anchor="end" stroke="#000" stroke-width="0.25">1E-5</text>
<text transform="translate(93.3,442.73) scale(1,1.09)" font-size="13.1" text-anchor="end" stroke="#000" stroke-width="0.25">1E-6</text>
<text transform="translate(93.3,498.60) scale(1,1.09)" font-size="13.1" text-anchor="end" stroke="#000" stroke-width="0.25">1E-7</text>
<text transform="translate(198.31,510.7) scale(1,1.09)" font-size="13.1" text-anchor="middle" stroke="#000" stroke-width="0.25">10</text>
<text transform="translate(339.11,510.7) scale(1,1.09)" font-size="13.1" text-anchor="middle" stroke="#000" stroke-width="0.25">100</text>
<text x="254.7" y="536.6" font-size="15.7">Multipole</text><text x="320.9" y="536.6" font-size="15.7" font-style="italic">l</text>
<g transform="translate(52.8,411.8) rotate(-90)"><text x="0.46" y="0" font-size="16" font-style="italic">l</text><text x="8.83" y="0" font-size="16">(</text><text x="15.1" y="0" font-size="16" font-style="italic">l</text><text x="18.52" y="0" font-size="16">+</text><text x="27.5" y="0" font-size="16">1</text><text x="37.3" y="0" font-size="16">)</text><text x="46.0" y="0" font-size="16">C</text><text transform="translate(57.2,-6.8) scale(1.13,1)" font-size="10.5">γg</text><text x="56.4" y="6.9" font-size="10.5" font-style="italic">l</text><text x="80.05" y="0" font-size="16">2</text><text x="88.1" y="0" font-size="16">π</text><path d="M70.9,0.8 L77.3,-10.6" stroke="#000" stroke-width="1" fill="none"/></g>
<g fill="none" stroke-width="1.7">
<path d="M315.3,400.2 H352" stroke="#000"/>
<path d="M315.3,419.6 h7 m5.7,0 h7 m5.7,0 h7" stroke="#ff0000"/>
<path d="M315.3,439 h7.9 m3.1,0 h2.1 m3.1,0 h7.9 m3.1,0 h2.1 m3.1,0 h4.4" stroke="#0000ff"/>
</g>
<text x="355.8" y="405.2" font-size="15">BLLacs</text>
<text x="355.8" y="424.8" font-size="15">FSRQs</text>
<text x="355.8" y="444.3" font-size="15">Star-Forming</text>
</svg>
</body></html>
